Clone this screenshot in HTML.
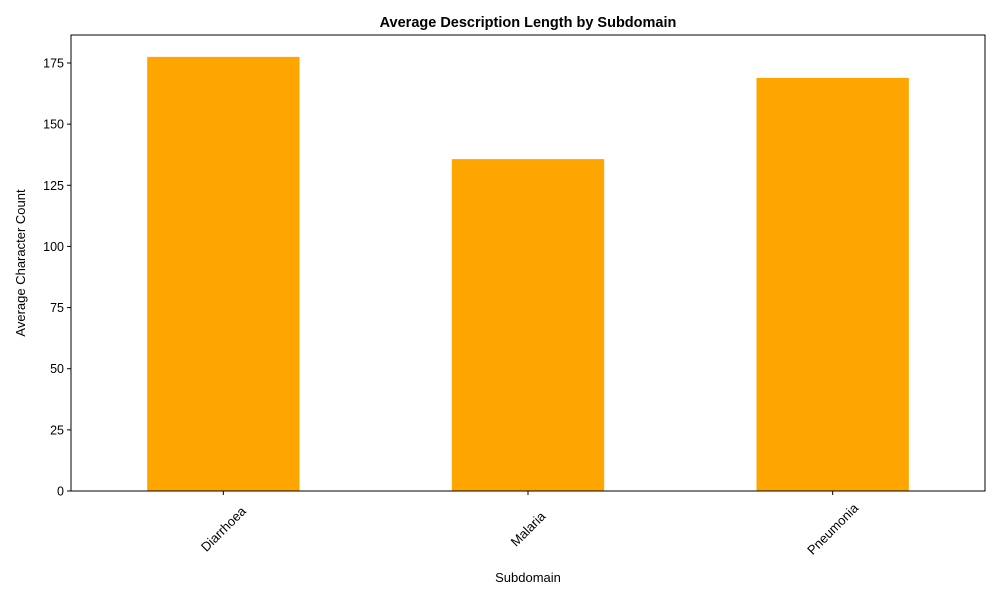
<!DOCTYPE html>
<html><head><meta charset="utf-8"><style>
body{margin:0;background:#fff;}
svg text{font-family:"Liberation Sans","DejaVu Sans",sans-serif;fill:#000;}
</style></head><body>
<svg id="chart" width="1000" height="600" xmlns="http://www.w3.org/2000/svg">
<rect width="1000" height="600" fill="#fff"/>
<text x="528" y="27" text-anchor="middle" font-size="14.5" font-weight="bold">Average Description Length by Subdomain</text>
<g id="bars"></g>
<g id="axes"></g>
<text x="528" y="582" text-anchor="middle" font-size="13">Subdomain</text>
<text transform="translate(25,263) rotate(-90)" text-anchor="middle" font-size="13">Average Character Count</text>
</svg>
<script>
const categories = ["Diarrhoea","Malaria","Pneumonia"];
const values = [177.5, 135.7, 168.9];
const yTicks = [0,25,50,75,100,125,150,175];

const L=71,R=985,T=35,B=491;
const yScale=v=>B-v*(B-63)/175;
const xScale=i=>L+(i+0.5)*(R-L)/categories.length;
const bw=0.5*(R-L)/categories.length;
const NS="http://www.w3.org/2000/svg";
const bars=document.getElementById('bars'), axes=document.getElementById('axes');
function mk(tag,attrs,parent){const e=document.createElementNS(NS,tag);for(const k in attrs)e.setAttribute(k,attrs[k]);parent.appendChild(e);return e;}
categories.forEach((c,i)=>{
  const r=mk('rect',{x:xScale(i)-bw/2,y:yScale(values[i]),width:bw,height:B-yScale(values[i]),fill:'#ffa500'},bars);
  
  
  const t=mk('line',{x1:xScale(i),x2:xScale(i),y1:B,y2:B+4,stroke:'#000'},axes);
  
  
  const x=xScale(i),y=B+38;
  const lb=mk('text',{x:x,y:y,'text-anchor':'middle','dominant-baseline':'central','font-size':'13',transform:`rotate(-45 ${x} ${y})`},axes);
  lb.textContent=c;
  
  
});
yTicks.forEach(v=>{
  const y=yScale(v);
  const t=mk('line',{x1:L-4,x2:L,y1:y,y2:y,stroke:'#000'},axes);
  
  
  const lb=mk('text',{x:L-7,y:y+4.5,'text-anchor':'end','font-size':'12.5'},axes);
  lb.textContent=v;
  
  
});
const frame=mk('rect',{x:L,y:T,width:R-L,height:B-T,fill:'none',stroke:'#000','stroke-width':1},axes);


</script>
</body></html>
